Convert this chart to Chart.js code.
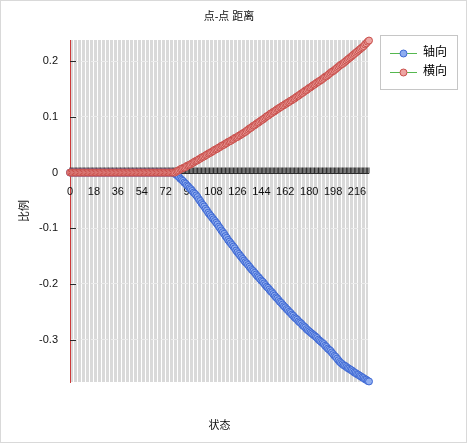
<!DOCTYPE html>
<html>
<head>
<meta charset="utf-8">
<script src="https://cdn.jsdelivr.net/npm/chart.js@4.4.1/dist/chart.umd.min.js"></script>
<style>
  html, body { margin: 0; padding: 0; background: #fff; }
  #box { position: absolute; left: 0; top: 0; width: 465px; height: 441px; border: 1px solid #d9d9d9; }
</style>
</head>
<body>
<div id="box"><canvas id="c"></canvas></div>
<script>
var FONT = "'Liberation Sans', 'Noto Sans CJK SC', sans-serif";

// 状态 0..225
var categories = [];
for (var i = 0; i <= 225; i++) categories.push(i);

var xTickLabels = [0, 18, 36, 54, 72, 90, 108, 126, 144, 162, 180, 198, 216];

var seriesNames = ['轴向', '横向'];

// 轴向
var axial = [
  0, 0, 0, 0, 0, 0, 0, 0, 0, 0,
  0, 0, 0, 0, 0, 0, 0, 0, 0, 0,
  0, 0, 0, 0, 0, 0, 0, 0, 0, 0,
  0, 0, 0, 0, 0, 0, 0, 0, 0, 0,
  0, 0, 0, 0, 0, 0, 0, 0, 0, 0,
  0, 0, 0, 0, 0, 0, 0, 0, 0, 0,
  0, 0, 0, 0, 0, 0, 0, 0, 0, 0,
  0, 0, 0, 0, 0, 0, 0, 0, -0.001, -0.002,
  -0.004, -0.006, -0.008, -0.011, -0.013, -0.015, -0.018, -0.020, -0.023, -0.025,
  -0.028, -0.030, -0.033, -0.036, -0.038, -0.041, -0.044, -0.048, -0.051, -0.055,
  -0.058, -0.061, -0.065, -0.068, -0.072, -0.075, -0.078, -0.081, -0.084, -0.087,
  -0.090, -0.093, -0.097, -0.100, -0.104, -0.107, -0.110, -0.114, -0.117, -0.121,
  -0.124, -0.127, -0.130, -0.133, -0.136, -0.140, -0.143, -0.146, -0.149, -0.152,
  -0.155, -0.158, -0.161, -0.163, -0.166, -0.169, -0.172, -0.175, -0.177, -0.180,
  -0.183, -0.186, -0.188, -0.191, -0.194, -0.196, -0.199, -0.202, -0.205, -0.207,
  -0.210, -0.213, -0.215, -0.218, -0.221, -0.224, -0.226, -0.229, -0.232, -0.234,
  -0.237, -0.240, -0.242, -0.245, -0.247, -0.250, -0.252, -0.255, -0.257, -0.260,
  -0.262, -0.264, -0.267, -0.269, -0.271, -0.274, -0.276, -0.278, -0.281, -0.283,
  -0.285, -0.287, -0.289, -0.291, -0.293, -0.295, -0.297, -0.300, -0.302, -0.304,
  -0.306, -0.308, -0.311, -0.313, -0.316, -0.318, -0.320, -0.323, -0.326, -0.329,
  -0.331, -0.334, -0.337, -0.340, -0.342, -0.344, -0.346, -0.347, -0.349, -0.351,
  -0.352, -0.354, -0.355, -0.357, -0.359, -0.360, -0.362, -0.363, -0.365, -0.366,
  -0.368, -0.369, -0.371, -0.372, -0.374, -0.375
];

// 横向
var lateral = [
  0, 0, 0, 0, 0, 0, 0, 0, 0, 0,
  0, 0, 0, 0, 0, 0, 0, 0, 0, 0,
  0, 0, 0, 0, 0, 0, 0, 0, 0, 0,
  0, 0, 0, 0, 0, 0, 0, 0, 0, 0,
  0, 0, 0, 0, 0, 0, 0, 0, 0, 0,
  0, 0, 0, 0, 0, 0, 0, 0, 0, 0,
  0, 0, 0, 0, 0, 0, 0, 0, 0, 0,
  0, 0, 0, 0, 0, 0, 0, 0, 0, 0,
  0.002, 0.003, 0.004, 0.006, 0.007, 0.008, 0.009, 0.010, 0.012, 0.013,
  0.014, 0.015, 0.017, 0.018, 0.020, 0.021, 0.022, 0.024, 0.025, 0.027,
  0.028, 0.029, 0.031, 0.032, 0.034, 0.035, 0.036, 0.038, 0.039, 0.041,
  0.042, 0.043, 0.045, 0.046, 0.048, 0.049, 0.050, 0.052, 0.053, 0.055,
  0.056, 0.057, 0.059, 0.060, 0.062, 0.063, 0.064, 0.066, 0.067, 0.069,
  0.070, 0.072, 0.073, 0.075, 0.077, 0.079, 0.080, 0.082, 0.084, 0.085,
  0.087, 0.089, 0.090, 0.092, 0.094, 0.095, 0.097, 0.099, 0.101, 0.102,
  0.104, 0.106, 0.107, 0.109, 0.110, 0.112, 0.114, 0.115, 0.117, 0.118,
  0.120, 0.121, 0.123, 0.124, 0.126, 0.127, 0.129, 0.130, 0.132, 0.133,
  0.135, 0.137, 0.138, 0.140, 0.142, 0.143, 0.145, 0.147, 0.148, 0.150,
  0.152, 0.153, 0.155, 0.157, 0.158, 0.160, 0.162, 0.163, 0.165, 0.166,
  0.168, 0.170, 0.172, 0.173, 0.175, 0.177, 0.179, 0.181, 0.182, 0.184,
  0.186, 0.188, 0.190, 0.192, 0.194, 0.195, 0.197, 0.199, 0.201, 0.203,
  0.205, 0.207, 0.209, 0.211, 0.213, 0.215, 0.217, 0.219, 0.221, 0.223,
  0.225, 0.227, 0.230, 0.232, 0.235, 0.237
];

var lineColor = '#55b84f';
var pointFill = ['#8fadf0', '#eda5a3'];
var pointEdge = ['#3f69d3', '#c9504c'];

// legend symbol: green line with a marker in the middle
function legendIcon(fill, edge) {
  var c = document.createElement('canvas');
  c.width = 41;
  c.height = 12;
  var g = c.getContext('2d');
  g.strokeStyle = lineColor;
  g.lineWidth = 1;
  g.beginPath();
  g.moveTo(14, 6.5);
  g.lineTo(41, 6.5);
  g.stroke();
  g.beginPath();
  g.arc(27.5, 6.5, 3.5, 0, Math.PI * 2);
  g.fillStyle = fill;
  g.fill();
  g.strokeStyle = edge;
  g.stroke();
  return c;
}
var icons = [legendIcon(pointFill[0], pointEdge[0]), legendIcon(pointFill[1], pointEdge[1])];

var plotDecor = {
  id: 'plotDecor',
  beforeDraw: function (chart) {
    var a = chart.chartArea, ctx = chart.ctx;
    ctx.save();
    ctx.fillStyle = '#d9d9d9';
    ctx.fillRect(a.left, a.top, a.right - a.left, a.bottom - a.top);
    ctx.restore();
  },
  beforeDatasetsDraw: function (chart) {
    var ctx = chart.ctx, x = chart.scales.x, y = chart.scales.y;
    var y0 = Math.round(y.getPixelForValue(0)) + 0.5;
    ctx.save();
    ctx.strokeStyle = '#2b2b2b';
    ctx.lineWidth = 1;
    ctx.beginPath();
    categories.forEach(function (c, i) {
      var px = x.getPixelForValue(i);
      ctx.moveTo(px, y0 - 6);
      ctx.lineTo(px, y0);
    });
    ctx.moveTo(x.left, y0);
    ctx.lineTo(x.right, y0);
    y.ticks.forEach(function (t) {
      var py = Math.round(y.getPixelForValue(t.value)) + 0.5;
      ctx.moveTo(y.right, py);
      ctx.lineTo(y.right + 6, py);
    });
    ctx.stroke();

    ctx.fillStyle = '#111';
    ctx.font = '11px ' + FONT;
    ctx.textAlign = 'center';
    ctx.textBaseline = 'middle';
    xTickLabels.forEach(function (v) {
      ctx.fillText(String(v), x.getPixelForValue(v), y0 + 18);
    });
    ctx.restore();
  },
  afterDraw: function (chart) {
    var lg = chart.legend, ctx = chart.ctx;
    ctx.save();
    ctx.strokeStyle = '#c6c6c6';
    ctx.lineWidth = 1;
    ctx.strokeRect(Math.round(lg.left) + 11.5, Math.round(lg.top) - 4.5, 77, 54);
    ctx.restore();
  }
};

new Chart(document.getElementById('c'), {
  type: 'line',
  data: {
    labels: categories,
    datasets: [
      {
        label: seriesNames[0],
        data: axial,
        borderColor: lineColor,
        borderWidth: 1,
        pointRadius: 3.5,
        pointBackgroundColor: pointFill[0],
        pointBorderColor: pointEdge[0],
        pointBorderWidth: 1,
        clip: false,
        order: 1
      },
      {
        label: seriesNames[1],
        data: lateral,
        borderColor: lineColor,
        borderWidth: 1,
        pointRadius: 3.5,
        pointBackgroundColor: pointFill[1],
        pointBorderColor: pointEdge[1],
        pointBorderWidth: 1,
        clip: false,
        order: 0
      }
    ]
  },
  options: {
    responsive: true,
    maintainAspectRatio: false,
    animation: false,
    layout: { padding: { left: 0, right: 9, top: 0, bottom: 0 } },
    plugins: {
      title: {
        display: true,
        text: '点-点 距离',
        color: '#111',
        font: { family: FONT, size: 11, weight: 'normal' },
        padding: { top: 9.4, bottom: 16.4 }
      },
      legend: {
        position: 'right',
        align: 'start',
        fullSize: false,
        labels: {
          usePointStyle: true,
          pointStyleWidth: 41,
          padding: 7,
          color: '#111',
          font: { family: FONT, size: 12 },
          generateLabels: function (chart) {
            return chart.data.datasets.map(function (ds, i) {
              return {
                text: ds.label,
                pointStyle: icons[i],
                datasetIndex: i,
                lineWidth: 0,
                fillStyle: 'rgba(0,0,0,0)',
                strokeStyle: 'rgba(0,0,0,0)',
                hidden: false
              };
            });
          }
        }
      },
      tooltip: { enabled: false }
    },
    scales: {
      x: {
        type: 'category',
        offset: false,
        grid: {
          color: function (c) { return c.index % 3 === 0 ? '#ffffff' : 'rgba(0,0,0,0)'; },
          lineWidth: 1,
          drawTicks: false
        },
        border: { display: false },
        ticks: { display: false, autoSkip: false },
        title: {
          display: true,
          text: '状态',
          color: '#111',
          font: { family: FONT, size: 11 },
          padding: { top: 0, bottom: 9.4 }
        },
        afterFit: function (s) { s.height = 60; }
      },
      y: {
        min: -0.376,
        max: 0.238,
        grid: { color: '#ececec', drawTicks: false },
        border: { display: true, color: '#cc3b3b', dash: [7, 3], width: 1 },
        ticks: {
          stepSize: 0.1,
          includeBounds: false,
          padding: 12,
          color: '#111',
          font: { family: FONT, size: 11 }
        },
        title: {
          display: true,
          text: '比例',
          color: '#111',
          font: { family: FONT, size: 11 },
          padding: { top: 17.4, bottom: 0 }
        },
        afterFit: function (s) { s.width = 69; }
      }
    }
  },
  plugins: [plotDecor]
});
</script>
</body>
</html>
